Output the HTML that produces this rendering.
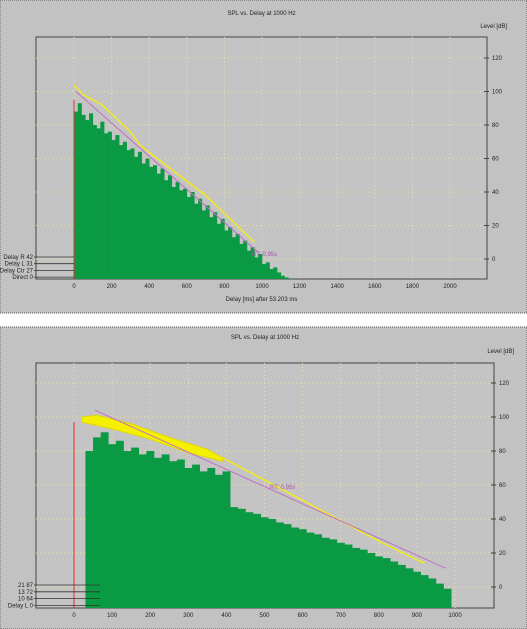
<!DOCTYPE html>
<html><head><meta charset="utf-8"><style>
html,body{margin:0;padding:0;background:#fff;}
svg{display:block;font-family:"Liberation Sans",sans-serif;}
</style></head><body>
<svg id="s" width="527" height="629" viewBox="0 0 527 629">
<rect x="0" y="0" width="527" height="313" fill="#c2c2c2" stroke="#555" stroke-dasharray="1,1"/>
<rect x="0" y="327" width="527" height="302" fill="#c2c2c2" stroke="#555" stroke-dasharray="1,1"/>
<g id="top"></g><g id="bot"></g>
</svg>
<script>
// Top chart data
const topTimes = [0,20,40,60,80,100,120,140,160,180,200,220,240,260,280,300,320,340,360,380,400,420,440,460,480,500,520,540,560,580,600,620,640,660,680,700,720,740,760,780,800,820,840,860,880,900,920,940,960,980,1000,1020,1040,1060,1080,1100,1120];
const topLevels = [88,93,86,83,87,80,78,82,75,76,71,74,68,70,65,66,61,64,57,60,55,56,51,54,47,50,43,46,41,42,37,40,33,36,29,32,25,28,21,24,17,19,13,15,9,11,5,7,1,3,-3,-2,-6,-5,-8,-10,-11];
const topXTicks = [0,200,400,600,800,1000,1200,1400,1600,1800,2000];
const topYTicks = [0,20,40,60,80,100,120];
const topYellowT = [0,50,150,300,350,500,700,960];
const topYellowL = [104,98,92,76,68,55,38,10];
const topPinkT = [10,980];
const topPinkL = [100,4];
const topLegend = ["Delay R 42","Delay L 31","Delay Ctr 27","Direct 0"];
// Bottom chart data
const botTimes = [30,50,70,90,110,130,150,170,190,210,230,250,270,290,310,330,350,370,390,410,430,450,470,490,510,530,550,570,590,610,630,650,670,690,710,730,750,770,790,810,830,850,870,890,910,930,950,970];
const botLevels = [80,88,91,84,86,80,82,78,80,76,78,74,75,70,72,68,70,66,68,47,46,44,43,41,40,38,37,35,34,32,31,29,28,26,25,23,22,20,18,17,15,13,11,9,7,5,2,-1];
const botXTicks = [0,100,200,300,400,500,600,700,800,900,1000];
const botYTicks = [0,20,40,60,80,100,120];
const botBandUpperT = [20,60,150,250,350,390];
const botBandUpperL = [100,101,96,88,81,76];
const botBandLowerT = [390,300,200,100,20];
const botBandLowerL = [74,79,87,93,97];
const botYellowT = [390,600,800,900,920];
const botYellowL = [76,51,27,16,14];
const botPinkT = [55,976];
const botPinkL = [104,11];
const botLegend = ["21 87","13 72","10 64","Delay L 0"];

const NS="http://www.w3.org/2000/svg";
function mk(p,tag,a,txt){const e=document.createElementNS(NS,tag);for(const k in a)e.setAttribute(k,a[k]);if(txt!==undefined)e.textContent=txt;p.appendChild(e);return e;}

function chart(g,cfg){
  const X=t=>cfg.x0+(t-0)*cfg.kx, Y=l=>cfg.y0-l*cfg.ky;
  const area=mk(g,'rect',{x:cfg.L,y:cfg.T,width:cfg.R-cfg.L,height:cfg.B-cfg.T,fill:'#c4c4c4',stroke:'#444','stroke-width':1});
  
  
  cfg.xt.forEach(v=>{
    const gl=mk(g,'line',{x1:X(v),x2:X(v),y1:cfg.T,y2:cfg.B,stroke:'#e6e6b0','stroke-dasharray':'1,3'});
    
    
    const t=mk(g,'text',{x:X(v),y:cfg.B+9,'font-size':6,fill:'#222','text-anchor':'middle'},String(v));
    
    
  });
  cfg.yt.forEach(v=>{
    const gl=mk(g,'line',{x1:cfg.L,x2:cfg.R,y1:Y(v),y2:Y(v),stroke:'#e6e6b0','stroke-dasharray':'1,3'});
    
    
    mk(g,'line',{x1:cfg.R-3,x2:cfg.R+2,y1:Y(v),y2:Y(v),stroke:'#444'});
    const t=mk(g,'text',{x:cfg.R+5,y:Y(v)+2,'font-size':6,fill:'#222'},String(v));
    
    
  });
  const w=20*cfg.kx;
  cfg.times.forEach((t,i)=>{
    const y=Y(cfg.levels[i]);
    const b=mk(g,'rect',{x:X(t),y:y,width:w+0.3,height:cfg.B-y,fill:'#0b9a44'});
    
    
  });
  if(cfg.band){
    const pts=cfg.band[0].map((t,i)=>X(t)+','+Y(cfg.band[1][i])).concat(cfg.band[2].map((t,i)=>X(t)+','+Y(cfg.band[3][i])));
    const p=mk(g,'polygon',{points:pts.join(' '),fill:'#f4f000',stroke:'#e0d800'});
    
    
  }
  const yl=mk(g,'polyline',{points:cfg.yT.map((t,i)=>X(t)+','+Y(cfg.yL[i])).join(' '),fill:'none',stroke:'#f0ea20','stroke-width':1.5});
  
  
  const pl=mk(g,'polyline',{points:cfg.pT.map((t,i)=>X(t)+','+Y(cfg.pL[i])).join(' '),fill:'none',stroke:'#c070c0','stroke-width':1});
  
  
  const rl=mk(g,'line',{x1:X(0),x2:X(0),y1:cfg.B,y2:Y(cfg.redL),stroke:'#e03030','stroke-width':1});
  
  
  const rt=mk(g,'text',{x:cfg.rtx,y:cfg.rty,'font-size':6,fill:'#b050b0'},'RT: 0.95s');
  
  
  cfg.legend.forEach((s,i)=>{
    const y=cfg.legY+i*cfg.legDy;
    mk(g,'line',{x1:cfg.L-2,x2:cfg.legX2,y1:y,y2:y,stroke:'#333','stroke-width':0.8});
    const t=mk(g,'text',{x:cfg.L-3,y:y+2,'font-size':6,fill:'#222','text-anchor':'end'},s);
    
    
  });
  const ti=mk(g,'text',{x:(cfg.L+cfg.R)/2,y:cfg.titleY,'font-size':6,fill:'#222','text-anchor':'middle'},'SPL vs. Delay at 1000 Hz');
  
  
  const lv=mk(g,'text',{x:cfg.R+20,y:cfg.lvY,'font-size':6,fill:'#222','text-anchor':'end'},'Level [dB]');
  
  
  if(cfg.xTitle){
    const xt=mk(g,'text',{x:(cfg.L+cfg.R)/2,y:cfg.B+22,'font-size':6,fill:'#222','text-anchor':'middle'},cfg.xTitle);
    
    
  }
}
chart(document.getElementById('top'),{L:36,R:487,T:37,B:279,x0:74,kx:0.188,y0:259,ky:1.675,
  xt:topXTicks,yt:topYTicks,times:topTimes,levels:topLevels,yT:topYellowT,yL:topYellowL,pT:topPinkT,pL:topPinkL,
  redL:95,rtx:252,rty:256,legend:topLegend,legY:257,legDy:6.7,legX2:74,titleY:15,lvY:28,xTitle:'Delay [ms] after  53.203 ms'});
chart(document.getElementById('bot'),{L:36,R:494,T:363,B:608,x0:74,kx:0.381,y0:587,ky:1.7,
  xt:botXTicks,yt:botYTicks,times:botTimes,levels:botLevels,yT:botYellowT,yL:botYellowL,pT:botPinkT,pL:botPinkL,
  band:[botBandUpperT,botBandUpperL,botBandLowerT,botBandLowerL],
  redL:97,rtx:270,rty:489,legend:botLegend,legY:585,legDy:6.8,legX2:100,titleY:339,lvY:353,xTitle:null});
</script>
</body></html>
